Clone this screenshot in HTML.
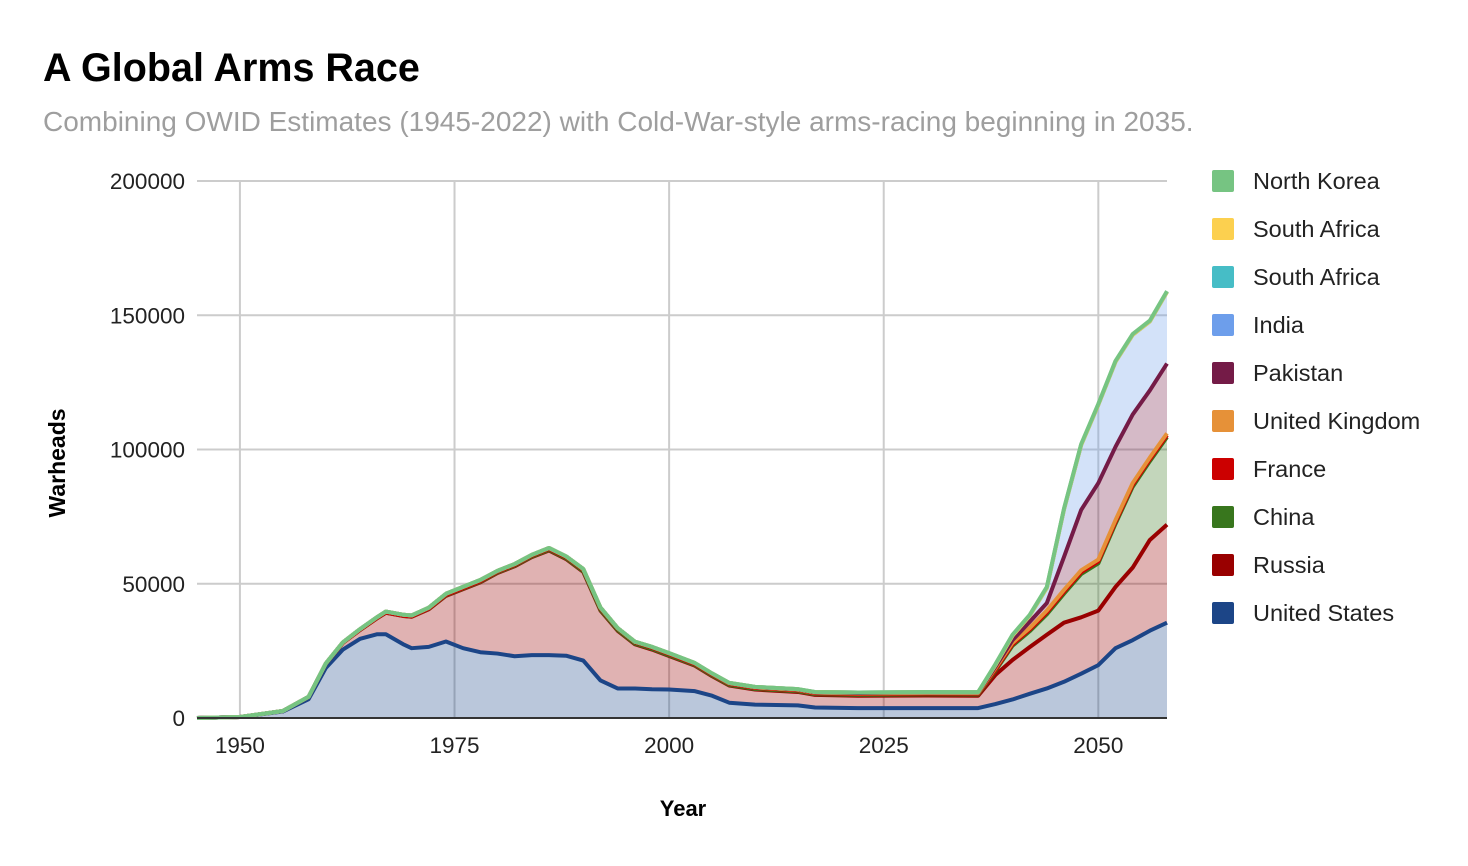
<!DOCTYPE html>
<html><head><meta charset="utf-8">
<style>
body{margin:0;background:#fff;font-family:"Liberation Sans",Arial,sans-serif;}
#wrap{position:relative;width:1468px;height:866px;overflow:hidden;}
</style></head>
<body>
<div id="wrap">
<svg id="chart" width="1468" height="866" xmlns="http://www.w3.org/2000/svg">
<text x="43" y="81" font-size="39.5" font-weight="bold" fill="#000">A Global Arms Race</text>
<text x="43" y="131" font-size="28" fill="#9e9e9e">Combining OWID Estimates (1945-2022) with Cold-War-style arms-racing beginning in 2035.</text>
<g id="grid"></g>
<g id="areas"></g>
<g id="lines"></g>
<g id="axes"></g>
<text x="683" y="816" font-size="22" font-weight="bold" text-anchor="middle">Year</text>
<text transform="translate(65,463) rotate(-90)" font-size="23" font-weight="bold" text-anchor="middle">Warheads</text>
<g id="legend"></g>
</svg>
</div>
<script>
const years = [1945,1950,1955,1958,1960,1962,1964,1966,1967,1969,1970,1972,1974,1976,1978,1980,1982,1984,1986,1988,1990,1992,1994,1996,1998,2000,2003,2005,2007,2010,2015,2017,2022,2030,2036,2038,2040,2042,2044,2046,2048,2050,2052,2054,2056,2058];
const us = [2,370,2400,7000,18600,25500,29500,31200,31200,27500,26000,26500,28500,26000,24500,24000,23000,23400,23400,23200,21400,14000,11000,11000,10700,10600,10000,8300,5700,5000,4700,3900,3700,3700,3700,5200,6900,9000,11000,13500,16500,19700,26000,29000,32500,35500];
const russia = [0,5,200,870,1600,2500,3300,6000,8000,10500,11700,14000,17000,22000,26000,30000,33500,36500,39000,36000,33000,26000,21500,16500,14800,12500,9500,7300,6400,5600,5000,4700,4600,4700,4600,10800,14700,17400,20000,22000,21000,20300,22800,27000,33800,36500];
const china = [0,0,0,0,0,0,1,20,25,50,75,130,170,180,200,205,210,215,220,230,230,230,235,235,235,235,230,235,240,260,260,280,350,400,450,1500,5300,5900,7600,10800,16100,17600,23500,30100,29300,32600];
const france = [0,0,0,0,0,0,4,36,36,36,36,70,150,200,230,250,270,300,355,420,505,540,510,450,450,470,350,350,350,300,300,300,290,290,290,400,500,600,700,700,700,700,700,700,700,700];
const uk = [0,0,10,50,100,200,310,350,380,390,390,400,450,450,450,350,350,350,350,350,350,350,250,250,280,280,280,280,225,225,215,215,225,225,230,600,600,600,700,700,700,700,700,700,700,700];
const pakistan = [0,0,0,0,0,0,0,0,0,0,0,0,0,0,0,0,0,0,0,0,0,0,0,0,5,15,40,60,85,105,130,140,165,170,170,500,1000,2300,2800,12300,22500,28500,27300,25500,25000,26000];
const india = [0,0,0,0,0,0,0,0,0,0,0,0,0,0,0,0,0,0,0,0,0,0,0,0,40,50,70,85,90,100,130,130,160,170,170,700,1700,2300,5700,17700,24200,29200,31700,29700,25700,26700];
const southAfricaA = [0,0,0,0,0,0,0,0,0,0,0,0,0,0,0,0,0,0,0,0,0,0,0,0,0,0,0,0,0,0,0,0,0,0,0,0,0,0,0,0,0,0,0,0,0,0];
const southAfricaB = [0,0,0,0,0,0,0,0,0,0,0,0,0,0,0,0,0,0,0,0,0,0,0,0,0,0,0,0,0,0,0,0,0,0,0,0,0,0,0,0,0,0,0,0,0,0];
const northKorea = [0,0,0,0,0,0,0,0,0,0,0,0,0,0,0,0,0,0,0,0,0,0,0,0,0,0,0,0,2,5,10,15,30,30,30,300,300,300,300,300,300,300,300,300,300,300];
const seriesNames = ["United States","Russia","China","France","United Kingdom","Pakistan","India","South Africa","South Africa","North Korea"];
const yTicks = [0,50000,100000,150000,200000];
const xTicks = [1950,1975,2000,2025,2050];

const seriesData=[us,russia,china,france,uk,pakistan,india,southAfricaA,southAfricaB,northKorea];
const colors=["#1c4587","#990000","#38761d","#cc0000","#e69138","#741b47","#6d9eeb","#46bdc6","#fcd04f","#76c482"];
const X0=197,X1=1167,Y0=718,Y1=181;
function xs(y){return X0+(y-1945)/(2058-1945)*(X1-X0);}
function ys(v){return Y0-v/200000*(Y0-Y1);}
const NS="http://www.w3.org/2000/svg";
function mk(t,a,p){const e=document.createElementNS(NS,t);for(const k in a)e.setAttribute(k,a[k]);p.appendChild(e);return e;}
const grid=document.getElementById('grid'),areas=document.getElementById('areas'),lines=document.getElementById('lines'),axes=document.getElementById('axes'),legend=document.getElementById('legend');
yTicks.forEach(v=>{
  const l=mk('line',{x1:X0,x2:X1,y1:ys(v),y2:ys(v),stroke:'#cccccc','stroke-width':2},grid);
  
  
  const t=mk('text',{x:185,y:ys(v)+8,'font-size':22.5,'text-anchor':'end',fill:'#222'},axes);
  t.textContent=v;
  
  
});
xTicks.forEach(v=>{
  const l=mk('line',{x1:xs(v),x2:xs(v),y1:Y1,y2:Y0,stroke:'#cccccc','stroke-width':2},grid);
  
  
  const t=mk('text',{x:xs(v),y:753,'font-size':22.5,'text-anchor':'middle',fill:'#222'},axes);
  t.textContent=v;
  
  
});
let base=years.map(()=>0);
const tops=[];
seriesData.forEach((s,i)=>{
  const top=base.map((b,j)=>b+s[j]);
  let d='M'+years.map((y,j)=>xs(y)+','+ys(top[j])).join(' L');
  for(let j=years.length-1;j>=0;j--) d+=' L'+xs(years[j])+','+ys(base[j]);
  d+=' Z';
  const p=mk('path',{d:d,fill:colors[i],'fill-opacity':0.3,stroke:'none'},areas);
  
  
  tops.push(top);base=top;
});
tops.forEach((top,i)=>{
  const d='M'+years.map((y,j)=>xs(y)+','+ys(top[j])).join(' L');
  const p=mk('path',{d:d,fill:'none',stroke:colors[i],'stroke-width':4,'stroke-linejoin':'round'},lines);
  
  
});
const ax=mk('line',{x1:X0,x2:X1,y1:Y0,y2:Y0,stroke:'#333','stroke-width':2},axes);


for(let k=9;k>=0;k--){
  const r=9-k, cy=181+r*48;
  const g=mk('g',{},legend);
  
  
  mk('rect',{x:1212,y:cy-11,width:22,height:22,rx:2,fill:colors[k]},g);
  const t=mk('text',{x:1253,y:cy+8,'font-size':23.5,fill:'#222'},g);
  t.textContent=seriesNames[k];
}
</script>
</body></html>
